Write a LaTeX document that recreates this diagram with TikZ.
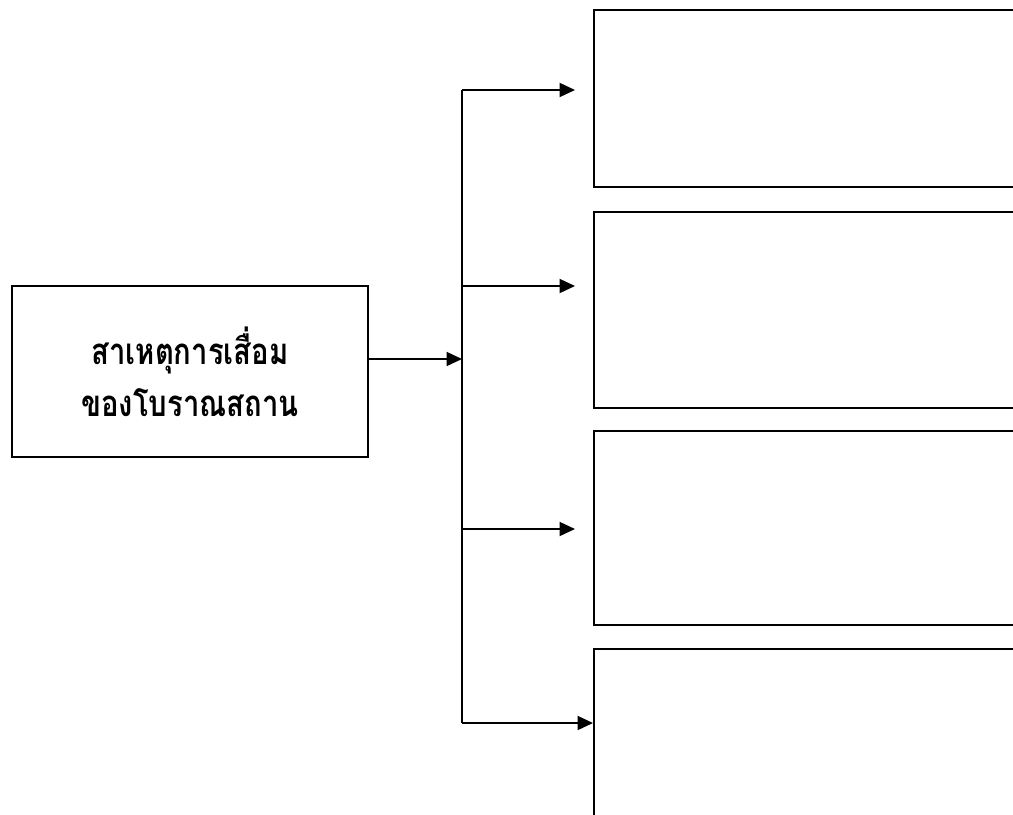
\documentclass[tikz,border=0pt]{standalone}
\usepackage{fontspec}
\newfontfamily\thaifont[Script=Thai, FakeStretch=0.8]{Loma}
\usetikzlibrary{positioning}
\usetikzlibrary{arrows.meta}

\begin{document}
\begin{tikzpicture}[x=0.025cm, y=-0.025cm,
  box/.style = {draw, line width=1.2pt, inner sep=0pt, minimum width=12cm},
  arr/.style = {-{Triangle[length=11pt,width=10pt]}, line width=1.2pt}]
\useasboundingbox (0,0) rectangle (1013,815);
\clip (0,0) rectangle (1013,815);
\node[box, minimum width=8.9cm, minimum height=4.275cm, align=center,
  font=\thaifont\bfseries\fontsize{26}{37}\selectfont] (cause) at (190,371.5)
  {สาเหตุการเสื่อม\\ของโบราณสถาน};
\node[box, anchor=west, minimum height=4.425cm] (b1) at (593,98.5) {};
\node[box, anchor=west, minimum height=4.9cm] (b2) at (593,310) {};
\node[box, anchor=west, minimum height=4.85cm] (b3) at (593,528) {};
\node[box, anchor=west, minimum height=6.275cm] (b4) at (593,774.5) {};
\coordinate (t1) at (462,90);
\coordinate (t2) at (462,286);
\coordinate (t3) at (462,529);
\coordinate (t4) at (462,723);
\coordinate (j) at (462,359);
\draw[line width=1.2pt] (t1) -- (t4);
\draw[arr] (cause.east |- j) -- (j);
\draw[arr, shorten >=0.45cm] (t1) -- (t1 -| b1.west);
\draw[arr, shorten >=0.45cm] (t2) -- (t2 -| b2.west);
\draw[arr, shorten >=0.45cm] (t3) -- (t3 -| b3.west);
\draw[arr] (t4) -- (t4 -| b4.west);
%\draw (cause) -- (b1);
\end{tikzpicture}
\end{document}
